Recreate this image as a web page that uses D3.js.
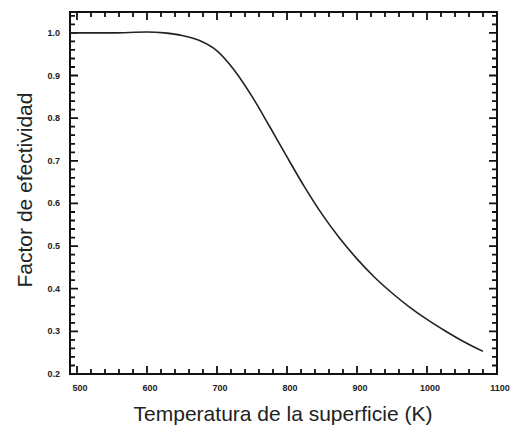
<!DOCTYPE html>
<html>
<head>
<meta charset="utf-8">
<script src="https://cdn.jsdelivr.net/npm/d3@7"></script>
<style>
  body { margin: 0; background: #fff; }
  svg { display: block; }
  .tick-label { font-family: "Liberation Sans", Arial, sans-serif; font-size: 9px; font-weight: bold; fill: #222; }
  .axis-title { font-family: "Liberation Sans", Arial, sans-serif; font-size: 21px; fill: #222; }
</style>
</head>
<body>
<svg width="510" height="432"></svg>
<script>
// temperatura (K) y factor de efectividad
const temps = [490, 550, 600, 625, 650, 675, 700, 725, 750, 775, 800, 825, 850, 875, 900, 925, 950, 975, 1000, 1025, 1050, 1080];
const factor = [1.0, 1.0, 1.002, 1.0, 0.994, 0.982, 0.958, 0.912, 0.851, 0.781, 0.709, 0.639, 0.575, 0.519, 0.470, 0.427, 0.390, 0.357, 0.328, 0.302, 0.278, 0.253];
const xTicks = [500, 600, 700, 800, 900, 1000, 1100];
const yTicks = [0.2, 0.3, 0.4, 0.5, 0.6, 0.7, 0.8, 0.9, 1.0];

const pLeft = 70, pRight = 497, pTop = 12, pBottom = 374;

const svg = d3.select("svg");

const x = d3.scaleLinear().domain([490, 1100]).range([pLeft, pRight]);
const y = d3.scaleLinear().domain([0.2, 1.049]).range([pBottom, pTop]);

// marcas menores cada 20 K y cada 0.02
const xMinor = d3.range(0, 31).map(i => 500 + i * 20);
const yMinor = d3.range(0, 43).map(i => 0.2 + i * 0.02);

// marco
svg.append("rect")
  .attr("x", pLeft).attr("y", pTop)
  .attr("width", pRight - pLeft).attr("height", pBottom - pTop)
  .attr("fill", "none").attr("stroke", "#111").attr("stroke-width", 2);

// todas las marcas en un solo path, hacia dentro
let d = "";
xMinor.forEach((v, i) => {
  const len = i % 5 === 0 ? 8 : 5;
  const px = x(v).toFixed(1);
  d += `M${px},${pBottom}V${pBottom - len}`;
  d += `M${px},${pTop}V${pTop + len}`;
});
yMinor.forEach((v, i) => {
  const len = i % 5 === 0 ? 8 : 5;
  const py = y(v).toFixed(1);
  d += `M${pLeft},${py}H${pLeft + len}`;
  d += `M${pRight},${py}H${pRight - len}`;
});
svg.append("path")
  .attr("d", d)
  .attr("fill", "none")
  .attr("stroke", "#111")
  .attr("stroke-width", 1.8);

// etiquetas
svg.selectAll(".xl").data(xTicks).enter().append("text")
  .attr("class", "tick-label")
  .attr("x", v => x(v) + 3).attr("y", pBottom + 17)
  .attr("text-anchor", "middle")
  .text(v => v);

svg.selectAll(".yl").data(yTicks).enter().append("text")
  .attr("class", "tick-label")
  .attr("x", pLeft - 10).attr("y", v => y(v) + 3)
  .attr("text-anchor", "end")
  .text(v => v.toFixed(1));

// curva
const line = d3.line()
  .x((v, i) => x(temps[i]))
  .y(v => y(v))
  .curve(d3.curveMonotoneX);

svg.append("path")
  .datum(factor)
  .attr("d", line)
  .attr("fill", "none")
  .attr("stroke", "#222")
  .attr("stroke-width", 1.6);

svg.append("text")
  .attr("class", "axis-title")
  .attr("x", 283).attr("y", 421)
  .attr("text-anchor", "middle")
  .text("Temperatura de la superficie (K)");

svg.append("text")
  .attr("class", "axis-title")
  .attr("transform", "translate(32,190) rotate(-90)")
  .attr("text-anchor", "middle")
  .text("Factor de efectividad");
</script>
</body>
</html>
